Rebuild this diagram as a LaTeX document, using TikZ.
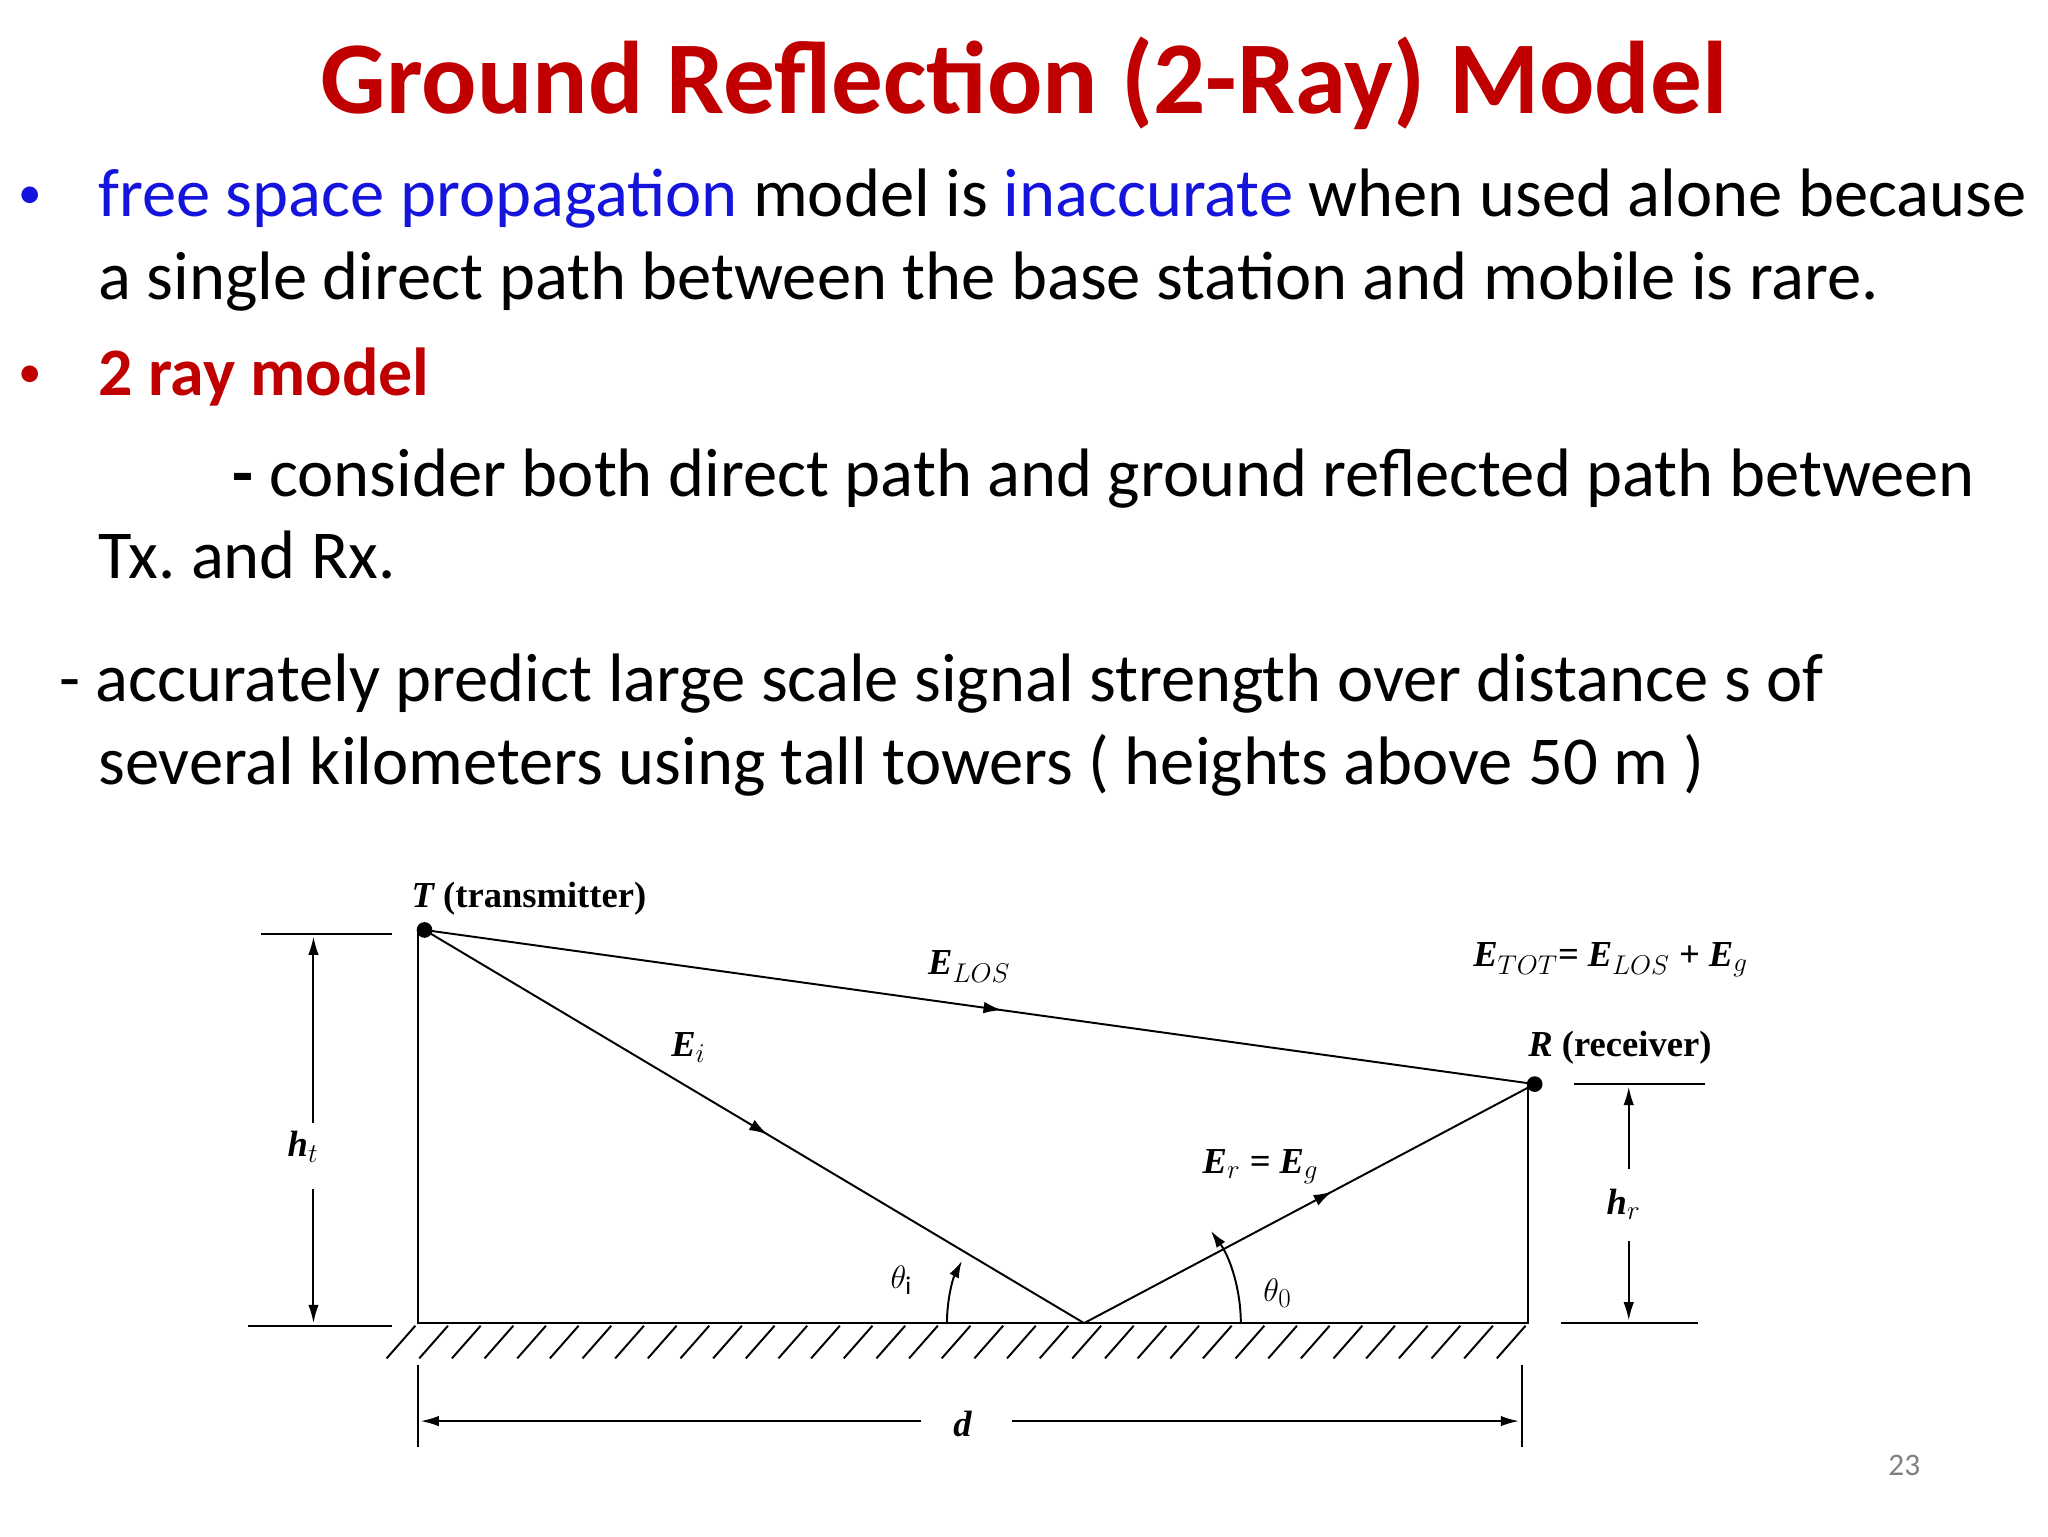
\documentclass[tikz,border=0pt]{standalone}
\usepackage{fontspec}
\setmainfont{Carlito}
\newfontfamily\serif{Liberation Serif}
\usetikzlibrary{decorations.markings,arrows.meta}
\definecolor{tred}{RGB}{192,0,0}
\definecolor{tblue}{RGB}{20,20,220}
\tikzset{
 body/.style={anchor=base west,font=\fontsize{52.5}{56}\selectfont,inner sep=0},
 bul/.style={anchor=base west,font=\fontsize{36}{40}\selectfont,inner sep=0},
 lbl/.style={font=\serif\bfseries\itshape\fontsize{28}{30}\selectfont,inner sep=0},
 ray/.style={line width=1.5pt,postaction={decorate},decoration={markings,mark=at position #1 with {\arrow{Latex[length=14pt,width=9pt]}}}},
 dim/.style={line width=1.5pt,-{Latex[length=14pt,width=8pt]}},
 thin/.style={line width=1.5pt}
}
\begin{document}
\begin{tikzpicture}[x=1pt,y=-1pt]
\useasboundingbox[fill=white] (0,0) rectangle (1568,1176);
\node[font=\bfseries\fontsize{79}{82}\selectfont,text=tred] (title) at (784,64) {Ground Reflection (2-Ray) Model};
\node[bul,text=tblue] (b1) at (14,160) {•};
\node[body] (l1) at (75,166) {\textcolor{tblue}{free space propagation} model is \textcolor{tblue}{inaccurate} when used alone because};
\node[body] (l2) at (75,229) {a single direct path between the base station and mobile is rare.};
\node[bul,text=tred] (b2) at (14,297) {•};
\node[body,text=tred,font=\bfseries\fontsize{52}{56}\selectfont] (l3) at (75,303) {2 ray model};
\node[body] (l4) at (178,380) {\textbf{-} consider both direct path and ground reflected path between};
\node[body] (l5) at (75,443) {Tx.\ and Rx.};
\node[body] (l6) at (45,537) {- accurately predict large scale signal strength over distance s of};
\node[body] (l7) at (75,601) {several kilometers using tall towers ( heights above 50 m )};
% diagram
\coordinate (T) at (325,712);
\coordinate (R) at (1175,830);
\coordinate (P) at (830,1013);
\fill (T) circle (6);
\fill (R) circle (6);
\draw[thin] (320,712) -- (320,1013) -- (1170,1013) -- (1170,830);
\foreach \x in {318,343,...,1170} \draw[thin] (\x,1015) -- (\x-22,1040);
\draw[ray=0.52] (T) -- (R);
\draw[ray=0.52] (T) -- (P);
\draw[ray=0.55] (P) -- (R);
\draw[thin,-{Latex[length=13pt,width=8pt]}] (725,1013) arc[start angle=180,end angle=207,radius=105];
\draw[thin,-{Latex[length=13pt,width=8pt]}] (950,1013) arc[start angle=0,end angle=-36,radius=120];
% ht
\draw[thin] (200,715) -- (300,715);
\draw[thin] (190,1015) -- (300,1015);
\draw[dim] (240,860) -- (240,717);
\draw[dim] (240,910) -- (240,1013);
\node[lbl] (ht) at (232,878) {h$_t$};
% hr
\draw[thin] (1205,830) -- (1305,830);
\draw[thin] (1195,1013) -- (1300,1013);
\draw[dim] (1247,895) -- (1247,832);
\draw[dim] (1247,950) -- (1247,1011);
\node[lbl] (hr) at (1243,922) {h$_r$};
% d
\draw[thin] (320,1045) -- (320,1108);
\draw[thin] (1165,1045) -- (1165,1108);
\draw[dim] (705,1088) -- (322,1088);
\draw[dim] (775,1088) -- (1163,1088);
\node[lbl] (d) at (737,1090) {d};
% labels
\node[lbl,anchor=west] (tl) at (315,688) {T \upshape(transmitter)};
\node[lbl,anchor=west] (rl) at (1170,802) {R \upshape(receiver)};
\node[lbl] (elos) at (742,740) {E$_{LOS}$};
\node[lbl] (ei) at (527,802) {E$_i$};
\node[lbl] (er) at (965,893) {E$_r$ = E$_g$};
\node[lbl] (etot) at (1233,735) {E$_{TOT}$= E$_{LOS}$ + E$_g$};
\node[font=\fontsize{28}{30}\selectfont] (ti) at (690,980) {$\theta_{\mathrm i}$};
\node[font=\fontsize{28}{30}\selectfont] (to) at (978,990) {$\theta_0$};
\node[font=\fontsize{24}{26}\selectfont,text=gray] (pg) at (1458,1122) {23};
\end{tikzpicture}
\end{document}
